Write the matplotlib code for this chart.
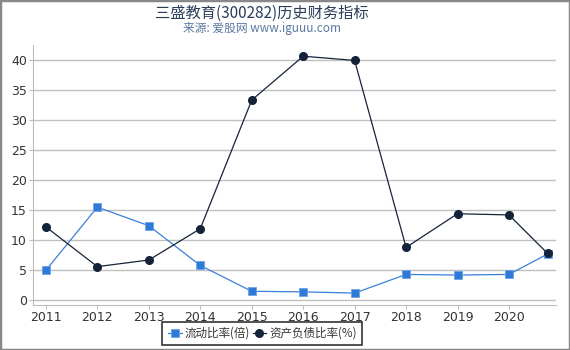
import matplotlib
matplotlib.use("Agg")
import matplotlib.pyplot as plt
from matplotlib.patches import Rectangle

plt.rcParams['font.family'] = ['DejaVu Sans', 'Noto Sans CJK SC']

years = [2011, 2012, 2013, 2014, 2015, 2016, 2017, 2018, 2019, 2020, 2020.75]
tick_years = [2011, 2012, 2013, 2014, 2015, 2016, 2017, 2018, 2019, 2020]
current_ratio = [5.0, 15.5, 12.4, 5.8, 1.5, 1.4, 1.2, 4.3, 4.2, 4.3, 7.7]
debt_ratio = [12.2, 5.6, 6.7, 11.9, 33.3, 40.6, 39.9, 8.8, 14.4, 14.2, 7.8]

fig = plt.figure(figsize=(5.7, 3.5), dpi=100)
ax = fig.add_axes([0.058, 0.13, 0.918, 0.742])

ax.plot(years, current_ratio, color='#3a80d8', lw=0.9, marker='s', ms=5.5,
        mfc='#2f7ad6', mec='#6aa3e8', mew=0.6, label='流动比率(倍)', zorder=3)
ax.plot(years, debt_ratio, color='#15233a', lw=0.9, marker='o', ms=5.5,
        mfc='#15233a', mec='#15233a', label='资产负债比率(%)', zorder=3)

ax.set_xlim(2010.75, 2020.92)
ax.set_ylim(-0.7, 42.5)
ax.set_xticks(tick_years)
ax.set_yticks(range(0, 41, 5))
ax.yaxis.grid(True, color='#c0c0c0', lw=1)
ax.set_axisbelow(True)
for s in ['top', 'right']:
    ax.spines[s].set_visible(False)
for s in ['left', 'bottom']:
    ax.spines[s].set_color('#bbbbbb')
ax.tick_params(axis='both', colors='#bbbbbb', labelcolor='#333333', labelsize=9,
               length=3, pad=1.5)

fig.text(0.46, 0.963, '三盛教育(300282)历史财务指标', ha='center', va='center',
         fontsize=11, color='#2b3d5a', family=['Noto Sans CJK SC', 'DejaVu Sans'])
fig.text(0.46, 0.918, '来源: 爱股网 www.iguuu.com', ha='center', va='center',
         fontsize=8.5, color='#5a78a0', family=['Noto Sans CJK SC', 'DejaVu Sans'])

leg = fig.legend(loc='lower center', bbox_to_anchor=(0.46, 0.008), ncol=2,
                 frameon=True, fancybox=False, edgecolor='black', handlelength=1.2,
                 handletextpad=0.25, columnspacing=0.25, borderpad=0.45,
                 borderaxespad=0.2,
                 prop={'family': ['Noto Sans CJK SC', 'DejaVu Sans'], 'size': 8.3})
leg.get_frame().set_linewidth(1.2)
for t in leg.get_texts():
    t.set_color('#333333')

fig.patches.append(Rectangle((0, 0), 1, 1, transform=fig.transFigure, fill=False,
                             edgecolor='#888888', lw=2.5))

fig.savefig('out.png', dpi=100)
